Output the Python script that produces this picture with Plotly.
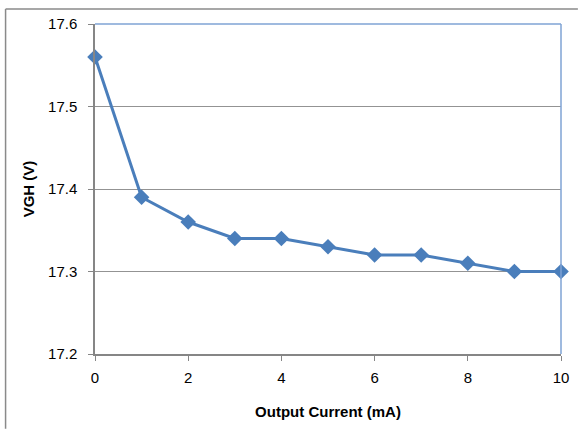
import plotly.graph_objects as go

current_ma = [0, 1, 2, 3, 4, 5, 6, 7, 8, 9, 10]
vgh_v = [17.56, 17.39, 17.36, 17.34, 17.34, 17.33, 17.32, 17.32, 17.31, 17.30, 17.30]
x_ticks = [0, 2, 4, 6, 8, 10]
y_ticks = [17.2, 17.3, 17.4, 17.5, 17.6]

W, H = 581, 430
L, R, T, B = 95, 17, 24, 75
pw, ph = W - L - R, H - T - B

fig = go.Figure()
fig.add_trace(go.Scatter(
    x=current_ma, y=vgh_v, mode="lines+markers",
    line=dict(color="#4A7EBB", width=3),
    marker=dict(symbol="diamond", size=12, color="#4A7EBB"),
    showlegend=False, cliponaxis=False,
))

font = dict(family="Liberation Sans, Arial, sans-serif", size=15, color="#000000")
fig.update_layout(
    width=W, height=H,
    margin=dict(l=L, r=R, t=T, b=B),
    paper_bgcolor="white", plot_bgcolor="white",
    font=font,
    xaxis=dict(
        range=[0, 10], tickvals=x_ticks, showgrid=False, zeroline=False,
        showline=True, linecolor="#868686", linewidth=1.5,
        ticks="outside", ticklen=5, tickcolor="#868686",
        ticklabelstandoff=4,
        title=dict(text="<b>Output Current (mA)</b>", font=dict(size=15), standoff=22),
        tickfont=dict(size=15),
    ),
    yaxis=dict(
        range=[17.2, 17.6], tickvals=y_ticks, tickformat=".1f",
        showgrid=True, gridcolor="#939393", gridwidth=1, zeroline=False,
        showline=True, linecolor="#868686", linewidth=1.5,
        ticks="outside", ticklen=5, tickcolor="#868686",
        ticklabelstandoff=8,
        title=dict(text="<b>VGH (V)</b>", font=dict(size=15), standoff=10),
        tickfont=dict(size=15),
    ),
)

# plot-area border (top and right, blue)
fig.add_shape(type="line", xref="paper", yref="paper", x0=0, x1=1, y0=1, y1=1,
              line=dict(color="#7FA3D4", width=1.5))
fig.add_shape(type="line", xref="paper", yref="paper", x0=1, x1=1, y0=0, y1=1,
              line=dict(color="#7FA3D4", width=1.5))

# outer frame lines (left and top)
fx = (5 - L) / pw
fy = (H - B - 9) / ph
fig.add_shape(type="line", xref="paper", yref="paper", x0=fx, x1=fx, y0=fy, y1=(H - B - H) / ph,
              line=dict(color="#8A8A8A", width=1.5))
fig.add_shape(type="line", xref="paper", yref="paper", x0=fx, x1=(W - L) / pw, y0=fy, y1=fy,
              line=dict(color="#8A8A8A", width=1.5))

fig.write_html("out.html")
